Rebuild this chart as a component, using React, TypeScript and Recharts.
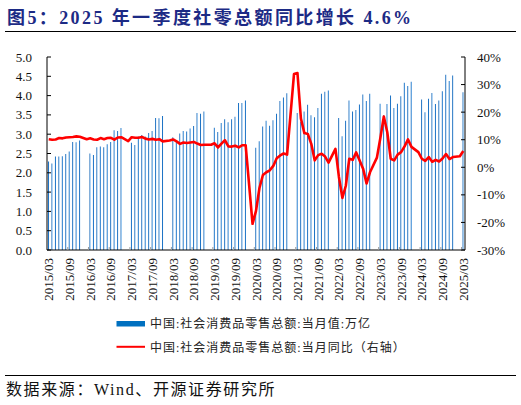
import { ComposedChart, Bar, Line, XAxis, YAxis } from "recharts";

// 社零当月值（万亿元），每年 3 月至 12 月；1、2 月合并公布，不画柱
const sales2015 = [2.29, 2.24, 2.42, 2.42, 2.43, 2.49, 2.55, 2.8, 2.79, 2.84];
const sales2016 = [2.5, 2.46, 2.66, 2.68, 2.66, 2.74, 2.8, 3.1, 3.08, 3.16];
const sales2017 = [2.78, 2.72, 2.94, 2.98, 2.94, 3.03, 3.08, 3.42, 3.41, 3.47];
const sales2018 = [2.92, 2.85, 3.02, 3.08, 3.07, 3.15, 3.21, 3.55, 3.53, 3.59];
const sales2019 = [3.17, 3.06, 3.29, 3.39, 3.31, 3.39, 3.45, 3.81, 3.81, 3.87];
const sales2020 = [2.65, 2.82, 3.2, 3.35, 3.22, 3.36, 3.53, 3.86, 3.95, 4.06];
const sales2021 = [3.55, 3.32, 3.59, 3.76, 3.49, 3.44, 3.68, 4.05, 4.1, 4.13];
const sales2022 = [3.42, 2.95, 3.35, 3.87, 3.59, 3.63, 3.77, 4.03, 3.86, 4.05];
const sales2023 = [3.79, 3.49, 3.78, 4.0, 3.68, 3.79, 3.98, 4.33, 4.25, 4.36];
const sales2024 = [3.9, 3.57, 3.92, 4.07, 3.78, 3.87, 4.11, 4.54, 4.38, 4.52];
const sales2025 = [4.09];

// 当月同比（%），第一个值为 1-2 月累计（画在 2 月），其余为 3 月起
const yoy2015 = [10.7, 10.2, 10.0, 10.1, 10.6, 10.5, 10.8, 10.9, 11.0, 11.2, 11.1];
const yoy2016 = [10.2, 10.5, 10.1, 10.0, 10.6, 10.2, 10.6, 10.7, 10.0, 10.8, 10.9];
const yoy2017 = [9.5, 10.9, 10.7, 10.7, 11.0, 10.4, 10.1, 10.3, 10.0, 10.2, 9.4];
const yoy2018 = [9.7, 10.1, 9.4, 8.5, 9.0, 8.8, 9.0, 9.2, 8.6, 8.1, 8.2];
const yoy2019 = [8.2, 8.7, 7.2, 8.6, 9.8, 7.6, 7.5, 7.8, 7.2, 8.0, 8.0];
const yoy2020 = [-20.5, -15.8, -7.5, -2.8, -1.8, -1.1, 0.5, 3.3, 4.3, 5.0, 4.6];
const yoy2021 = [33.8, 34.2, 17.7, 12.4, 12.1, 8.5, 2.5, 4.4, 4.9, 3.9, 1.7];
const yoy2022 = [6.7, -3.5, -11.1, -6.7, 3.1, 2.7, 5.4, 2.5, -0.5, -5.9, -1.8];
const yoy2023 = [3.5, 10.6, 18.4, 12.7, 3.1, 2.5, 4.6, 5.5, 7.6, 10.1, 7.4];
const yoy2024 = [5.5, 3.1, 2.3, 3.7, 2.0, 2.7, 2.1, 3.2, 4.8, 3.0, 3.7];
const yoy2025 = [4.0, 5.9];

const years: [number, number[], number[]][] = [
  [2015, sales2015, yoy2015],
  [2016, sales2016, yoy2016],
  [2017, sales2017, yoy2017],
  [2018, sales2018, yoy2018],
  [2019, sales2019, yoy2019],
  [2020, sales2020, yoy2020],
  [2021, sales2021, yoy2021],
  [2022, sales2022, yoy2022],
  [2023, sales2023, yoy2023],
  [2024, sales2024, yoy2024],
  [2025, sales2025, yoy2025],
];

const leftTicks = [0, 0.5, 1, 1.5, 2, 2.5, 3, 3.5, 4, 4.5, 5];
const rightTicks = [-30, -20, -10, 0, 10, 20, 30, 40];

const data: { month: string; sales: number | null; yoy: number | null }[] = [];
for (const [year, sales, yoy] of years) {
  const lastMonth = year === 2025 ? 3 : 12;
  for (let m = year === 2015 ? 3 : 1; m <= lastMonth; m++) {
    data.push({
      month: `${year}/${String(m).padStart(2, "0")}`,
      sales: m >= 3 ? sales[m - 3] : null,
      yoy: m >= 2 ? yoy[m - 2] : null,
    });
  }
}

const SERIF = "'Liberation Serif', 'Times New Roman', serif";
const CJK = "'Liberation Serif', 'Noto Sans CJK SC', sans-serif";

function MonthTick(props: any) {
  const { x, y, payload, index } = props;
  const ty = y + 8;
  return (
    <g>
      {index > 0 && <line x1={x - 1.7} x2={x - 1.7} y1={y - 3} y2={y} stroke="#999" />}
      <text
        x={x}
        y={ty}
        transform={`rotate(-90, ${x}, ${ty})`}
        textAnchor="end"
        dy="0.35em"
        fontSize={13}
        fill="#111"
        fontFamily={SERIF}
      >
        {payload.value}
      </text>
    </g>
  );
}

function LeftTick(props: any) {
  const { x, y, payload } = props;
  return (
    <g>
      <line x1={x} x2={x + 4} y1={y} y2={y} stroke="#000" />
      <text x={x - 15} y={y} dy="0.35em" textAnchor="end" fontSize={13} fill="#111" fontFamily={SERIF}>
        {payload.value.toFixed(1)}
      </text>
    </g>
  );
}

function RightTick(props: any) {
  const { x, y, payload } = props;
  return (
    <g>
      <line x1={x - 4} x2={x} y1={y} y2={y} stroke="#000" />
      <text x={x + 12} y={y} dy="0.35em" textAnchor="start" fontSize={13} fill="#111" fontFamily={SERIF}>
        {`${payload.value}%`}
      </text>
    </g>
  );
}

export default function App() {
  return (
    <div style={{ position: "absolute", left: 0, top: 0, width: 521, height: 405, background: "#fff" }}>
      <svg width={521} height={405} style={{ position: "absolute", left: 0, top: 0 }}>
        <text x={7} y={24} fontSize={18} fontWeight="bold" fill="#1c2a85" letterSpacing={2.4} fontFamily={CJK}>
          图5：2025 年一季度社零总额同比增长 4.6%
        </text>
        <line x1={5} x2={516} y1={31.5} y2={31.5} stroke="#000" />

        <rect x={116.5} y={321} width={28.5} height={5.5} fill="#0070C0" />
        <text x={150} y={327.5} fontSize={12} letterSpacing={1} fill="#222" fontFamily={CJK}>
          中国:社会消费品零售总额:当月值:万亿
        </text>
        <line x1={116.5} x2={145} y1={346.8} y2={346.8} stroke="#FF0000" strokeWidth={2} />
        <text x={150} y={351.5} fontSize={12} letterSpacing={1} fill="#222" fontFamily={CJK}>
          中国:社会消费品零售总额:当月同比（右轴）
        </text>

        <line x1={5} x2={516} y1={375.5} y2={375.5} stroke="#000" />
        <text x={6} y={395} fontSize={16} letterSpacing={1.6} fill="#111" fontFamily={CJK}>
          数据来源：Wind、开源证券研究所
        </text>
      </svg>

      <div style={{ position: "absolute", left: 0, top: 0 }}>
        <ComposedChart
          width={521}
          height={310}
          data={data}
          margin={{ top: 57, right: 0, bottom: 5, left: 0 }}
          barCategoryGap="30%"
        >
          <defs>
            <linearGradient id="barFill" x1="0" y1="0" x2="1" y2="0">
              <stop offset="0%" stopColor="#0A5FB4" />
              <stop offset="55%" stopColor="#1A72C6" />
              <stop offset="100%" stopColor="#5FA8E8" />
            </linearGradient>
          </defs>
          <XAxis
            dataKey="month"
            interval={5}
            height={55}
            tickSize={0}
            tickMargin={0}
            tickLine={false}
            axisLine={{ stroke: "#000" }}
            tick={<MonthTick />}
          />
          <YAxis
            yAxisId="left"
            orientation="left"
            width={47}
            domain={[0, 5]}
            ticks={leftTicks}
            interval={0}
            tickSize={0}
            tickMargin={0}
            tickLine={false}
            axisLine={{ stroke: "#000" }}
            tick={<LeftTick />}
          />
          <YAxis
            yAxisId="right"
            orientation="right"
            width={56}
            domain={[-30, 40]}
            ticks={rightTicks}
            interval={0}
            tickSize={0}
            tickMargin={0}
            tickLine={false}
            axisLine={{ stroke: "#000" }}
            tick={<RightTick />}
          />
          <Bar yAxisId="left" dataKey="sales" fill="url(#barFill)" isAnimationActive={false} />
          <Line
            yAxisId="right"
            dataKey="yoy"
            type="linear"
            stroke="#FF0000"
            strokeWidth={2.6}
            strokeLinejoin="round"
            dot={false}
            activeDot={false}
            connectNulls
            isAnimationActive={false}
          />
        </ComposedChart>
      </div>
    </div>
  );
}
